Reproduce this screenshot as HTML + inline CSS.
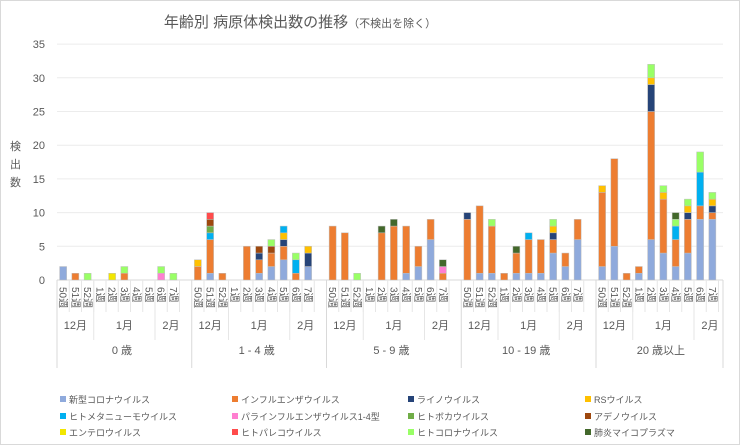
<!DOCTYPE html>
<html><head><meta charset="utf-8"><style>
body{margin:0;background:#fff;}
svg{display:block;font-family:"Liberation Sans","Noto Sans CJK JP",sans-serif;}
</style></head><body>
<svg id="c" width="740" height="445" viewBox="0 0 740 445" xmlns="http://www.w3.org/2000/svg">
<rect x="0.5" y="0.5" width="739" height="444" fill="#fff" stroke="#d9d9d9"/>
<text x="300" y="27" font-size="15" fill="#595959" text-anchor="middle">年齢別 病原体検出数の推移<tspan font-size="11">（不検出を除く）</tspan></text>
<text x="10" y="150" font-size="11" fill="#595959">検</text>
<text x="10" y="168" font-size="11" fill="#595959">出</text>
<text x="10" y="186" font-size="11" fill="#595959">数</text>
<g id="g"></g>
</svg>
<script>
const NS="http://www.w3.org/2000/svg",g=document.getElementById('g');
function el(t,a,txt){const e=document.createElementNS(NS,t);for(const k in a)e.setAttribute(k,a[k]);if(txt!=null)e.textContent=txt;g.appendChild(e);return e;}
const col=['#8faadc','#ed7d31','#264478','#ffc000','#00b0f0','#ff7fd0','#70ad47','#9e480e','#f2e600','#ff4b4b','#99ff66','#43682b'];
const names=['新型コロナウイルス','インフルエンザウイルス','ライノウイルス','RSウイルス','ヒトメタニューモウイルス','パラインフルエンザウイルス1-4型','ヒトボカウイルス','アデノウイルス','エンテロウイルス','ヒトパレコウイルス','ヒトコロナウイルス','肺炎マイコプラズマ'];
const y0=280,u=6.74,X0=57,S=12.25;
for(let i=0;i<=7;i++){const y=y0-i*5*u;if(i>0)el('line',{x1:57,x2:723,y1:y,y2:y,stroke:'#ececec'});el('text',{x:45,y:y+4,'font-size':11,fill:'#595959','text-anchor':'end'},String(i*5));}
el('line',{x1:57,x2:723,y1:y0,y2:y0,stroke:'#d9d9d9'});
// data: [index,count] pairs per bar
const D=[
[[[0,2]],[[1,1]],[[10,1]],[],[[8,1]],[[1,1],[10,1]],[],[],[[5,1],[10,1]],[[10,1]]],
[[[1,2],[3,1]],[[0,1],[1,5],[4,1],[6,1],[7,1],[9,1]],[[1,1]],[],[[1,5]],[[0,1],[1,2],[2,1],[7,1]],[[0,2],[1,2],[7,1],[10,1]],[[0,3],[1,2],[2,1],[3,1],[4,1]],[[1,1],[4,2],[10,1]],[[0,2],[2,2],[3,1]]],
[[[1,8]],[[1,7]],[[10,1]],[],[[1,7],[11,1]],[[1,8],[11,1]],[[0,1],[1,7]],[[0,2],[1,3]],[[0,6],[1,3]],[[1,1],[5,1],[11,1]]],
[[[1,9],[2,1]],[[0,1],[1,10]],[[0,1],[1,7],[10,1]],[[1,1]],[[0,1],[1,3],[11,1]],[[0,1],[1,5],[4,1]],[[0,1],[1,5]],[[0,4],[1,2],[2,1],[3,1],[10,1]],[[0,2],[1,2]],[[0,6],[1,3]]],
[[[0,2],[1,11],[3,1]],[[0,5],[1,13]],[[1,1]],[[0,1],[1,1]],[[0,6],[1,19],[2,4],[3,1],[10,2]],[[0,4],[1,8],[3,1],[10,1]],[[0,2],[1,4],[4,2],[10,1],[11,1]],[[0,4],[1,5],[2,1],[3,1],[10,1]],[[0,9],[1,2],[4,5],[10,3]],[[0,9],[1,1],[2,1],[3,1],[10,1]]]];
const wk=['50週','51週','52週','1週','2週','3週','4週','5週','6週','7週'];
const ages=['0 歳','1 - 4 歳','5 - 9 歳','10 - 19 歳','20 歳以上'];
for(let a=0;a<5;a++){
 const gx=X0+a*11*S;
 for(let w=0;w<10;w++){
  const cx=gx+(w+0.5)*S;let y=y0;
  for(const [k,n] of D[a][w]){const h=n*u;el('rect',{x:cx-3.5,y:y-h,width:7,height:h,fill:col[k],stroke:'#bfbfbf','stroke-width':0.5});y-=h;}
  el('text',{x:0,y:0,'font-size':10,fill:'#595959',transform:`translate(${cx-3.5},287) rotate(90)`},wk[w]);
  el('line',{x1:gx+(w+1)*S,x2:gx+(w+1)*S,y1:280,y2:312,stroke:'#e6e6e6'});
 }
 el('line',{x1:gx,x2:gx,y1:280,y2:368,stroke:'#d9d9d9'});
 el('line',{x1:gx+3*S,x2:gx+3*S,y1:280,y2:340,stroke:'#e6e6e6'});
 el('line',{x1:gx+8*S,x2:gx+8*S,y1:280,y2:340,stroke:'#e6e6e6'});
 el('text',{x:gx+1.5*S,y:329,'font-size':11,fill:'#595959','text-anchor':'middle'},'12月');
 el('text',{x:gx+5.5*S,y:329,'font-size':11,fill:'#595959','text-anchor':'middle'},'1月');
 el('text',{x:gx+9.3*S,y:329,'font-size':11,fill:'#595959','text-anchor':'middle'},'2月');
 el('text',{x:gx+5.3*S,y:354,'font-size':11,fill:'#595959','text-anchor':'middle'},ages[a]);
}
el('line',{x1:723,x2:723,y1:280,y2:368,stroke:'#d9d9d9'});
const lx=[60,232,408,585],ly=[402,419,435];
names.forEach((n,i)=>{const x=lx[i%4],y=ly[Math.floor(i/4)];el('rect',{x:x,y:y-6,width:6,height:6,fill:col[i]});el('text',{x:x+9,y:y+1,'font-size':9,fill:'#595959'},n);});
</script>
</body></html>
